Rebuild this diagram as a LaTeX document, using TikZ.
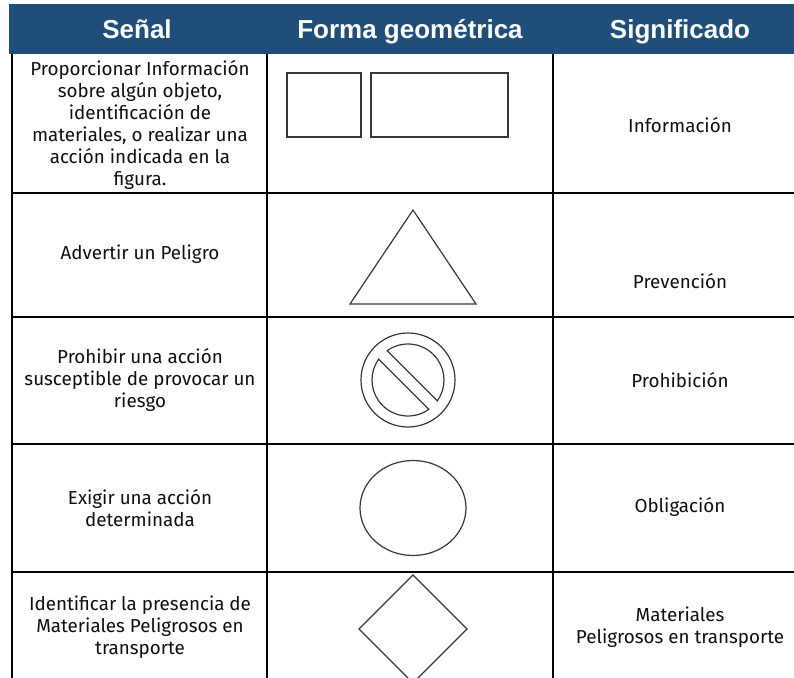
\documentclass[tikz,border=0pt]{standalone}
\usepackage{fontspec}
\setmainfont{Fira Sans}
\newfontfamily\headfont{Liberation Sans}
\usetikzlibrary{calc}
\definecolor{hdr}{RGB}{31,78,121}
\definecolor{shp}{RGB}{55,55,55}
\definecolor{txt}{RGB}{15,15,15}
\begin{document}
\begin{tikzpicture}[x=0.75pt,y=-0.75pt,
  head/.style={text=white,font=\headfont\bfseries\fontsize{19.5}{22}\selectfont,anchor=base,inner sep=0},
  body/.style={align=center,font=\fontsize{14.1}{16.5}\selectfont,text=txt,anchor=center,inner sep=0},
  gridline/.style={line width=1.6pt,black},
  outl/.style={draw=shp,line width=0.9pt}]
\useasboundingbox (0,0) rectangle (794,678);
\begin{scope}
\clip (0,0) rectangle (794,678);
% header
\fill[hdr] (9,4) rectangle (800,54);
\node[head] (h1) at (137,38) {Señal};
\node[head] (h2) at (410,38) {Forma geométrica};
\node[head] (h3) at (680,38) {Significado};
% grid
\draw[gridline] (12,54) -- (12,690);
\draw[gridline] (267,54) -- (267,690);
\draw[gridline] (553,54) -- (553,690);
\foreach \yy in {193,317,444,572} \draw[gridline] (12,\yy) -- (800,\yy);
% texts column 1
\node[body] (s1) at (140,125) {Proporcionar Información\\sobre algún objeto,\\identificación de\\materiales, o realizar una\\acción indicada en la\\figura.};
\node[body] (s2) at (140,254) {Advertir un Peligro};
\node[body] (s3) at (140,380) {Prohibir una acción\\susceptible de provocar un\\riesgo};
\node[body] (s4) at (140,508) {Exigir una acción\\determinada};
\node[body] (s5) at (140,627) {Identificar la presencia de\\Materiales Peligrosos en\\transporte};
% texts column 3
\node[body] (m1) at (680,125) {Información};
\node[body] (m2) at (680,281) {Prevención};
\node[body] (m3) at (680,380) {Prohibición};
\node[body] (m4) at (680,507) {Obligación};
\node[body] (m5) at (680,627) {Materiales\\Peligrosos en transporte};
% shapes
\draw[outl] (287,73) rectangle (361,137);
\draw[outl] (371,73) rectangle (508,137);
\draw[outl] (413,210) -- (476,304) -- (350,304) -- cycle;
\coordinate (pc) at (408,380);
\draw[outl] (pc) circle[radius=47];
\draw[outl] ($(pc)+(-125.4:36)$) arc[start angle=-125.4,end angle=35.4,radius=36] -- cycle;
\draw[outl] ($(pc)+(54.6:36)$) arc[start angle=54.6,end angle=215.4,radius=36] -- cycle;
\draw[outl] (413,508) ellipse[x radius=53,y radius=47.5];
\draw[outl] (413,575) -- (467,629) -- (413,683) -- (359,629) -- cycle;
\end{scope}
\end{tikzpicture}
\end{document}
